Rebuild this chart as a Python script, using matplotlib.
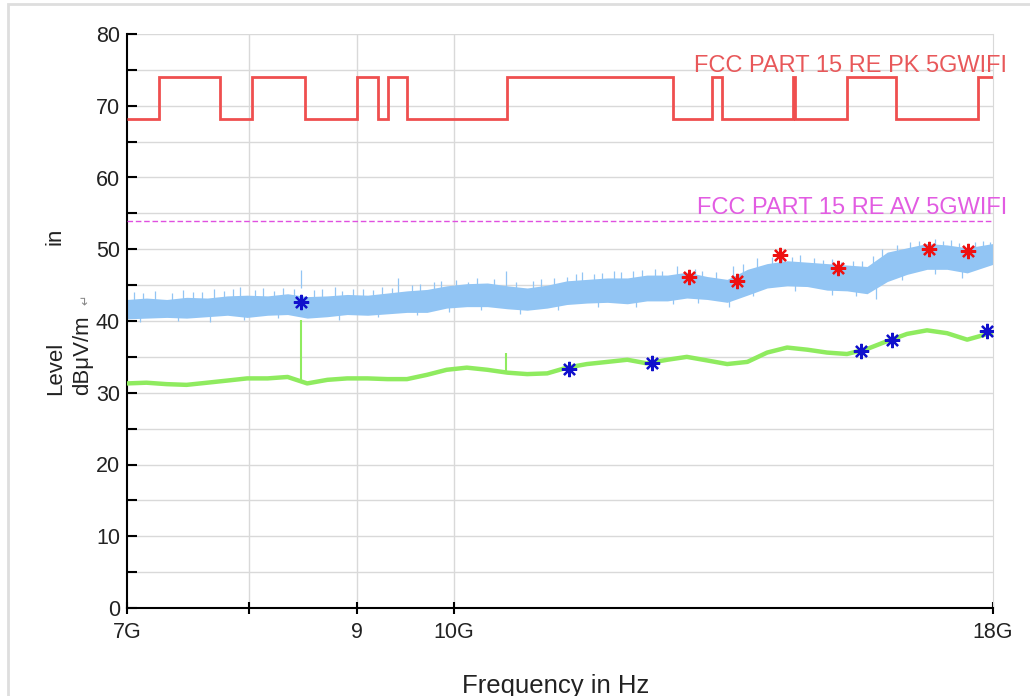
import numpy as np
import matplotlib
matplotlib.use("Agg")
import matplotlib.pyplot as plt
from matplotlib.ticker import FixedLocator, NullLocator, MultipleLocator
from matplotlib.patches import Rectangle
from matplotlib.transforms import blended_transform_factory

plt.rcParams['font.family'] = ['Liberation Sans', 'DejaVu Sans']

# frequency grid of the scan (GHz)
freq = [7.0, 7.15, 7.31, 7.47, 7.64, 7.81, 7.98, 8.16, 8.34, 8.52, 8.71, 8.9,
        9.1, 9.3, 9.5, 9.71, 9.92, 10.14, 10.37, 10.6, 10.83, 11.07, 11.31, 11.56,
        11.82, 12.08, 12.34, 12.62, 12.89, 13.18, 13.47, 13.77, 14.07, 14.38, 14.7,
        15.02, 15.35, 15.69, 16.04, 16.39, 16.75, 17.12, 17.5, 18.0]

# peak detector trace, upper / lower envelope (dBuV/m)
pk_upper = [43.0, 43.2, 43.0, 43.3, 43.2, 43.5, 43.6, 43.5, 43.8, 43.4, 43.5, 43.7,
            43.6, 43.9, 44.2, 44.4, 44.9, 45.2, 45.3, 44.9, 44.6, 45.0, 45.6, 45.8,
            46.0, 46.0, 46.4, 46.4, 46.8, 46.2, 45.8, 47.2, 48.0, 48.4, 48.2, 48.0,
            47.8, 47.6, 49.6, 50.2, 50.8, 50.6, 50.2, 50.8]
pk_lower = [40.3, 40.4, 40.5, 40.4, 40.6, 40.8, 40.5, 40.8, 40.9, 40.4, 40.6, 40.9,
            40.8, 41.0, 41.2, 41.2, 41.8, 42.0, 42.0, 41.7, 41.5, 41.8, 42.3, 42.5,
            42.6, 42.4, 42.8, 42.8, 43.2, 43.0, 42.6, 43.6, 44.6, 44.9, 44.8, 44.3,
            44.2, 43.8, 45.5, 46.5, 47.2, 47.2, 46.7, 47.9]

# narrow spurs sticking out of the peak trace (upwards)
spur_f = [7.05, 7.12, 7.22, 7.35, 7.44, 7.52, 7.6, 7.7, 7.78, 7.86, 7.92, 8.05,
          8.12, 8.22, 8.3, 8.4, 8.46, 8.58, 8.66, 8.78, 8.85, 8.96, 9.05, 9.15,
          9.24, 9.35, 9.41, 9.55, 9.64, 9.78, 9.86, 10.02, 10.15, 10.25, 10.45,
          10.58, 10.7, 10.9, 11.0, 11.15, 11.31, 11.42, 11.5, 11.65, 11.75, 11.9,
          12.0, 12.15, 12.28, 12.45, 12.55, 12.75, 13.0, 13.1, 13.3, 13.55, 13.7,
          13.92, 14.15, 14.3, 14.45, 14.58, 14.8, 14.95, 15.1, 15.25, 15.45, 15.6,
          15.8, 15.95, 16.21, 16.45, 16.6, 16.9, 17.05, 17.19, 17.35, 17.65, 17.8,
          17.95]
spur_top = [44.0, 43.9, 44.2, 43.9, 44.3, 44.0, 44.1, 44.5, 44.2, 44.4, 44.7, 44.3,
            44.6, 44.2, 44.6, 44.5, 47.1, 44.3, 44.5, 44.7, 44.2, 44.4, 44.5, 44.3,
            44.7, 44.6, 46.0, 45.0, 45.2, 45.4, 45.6, 45.7, 45.4, 46.0, 45.8,
            47.0, 45.5, 45.6, 45.8, 46.0, 46.1, 46.5, 46.8, 46.6, 46.7, 46.9,
            46.8, 47.0, 47.1, 47.2, 47.0, 47.6, 47.3, 46.9, 46.8, 47.6, 48.0,
            48.8, 48.9, 49.0, 48.9, 49.2, 48.8, 48.5, 48.6, 48.2, 48.4, 48.3,
            49.0, 50.0, 50.6, 51.0, 51.2, 51.4, 51.2, 51.3, 50.9, 51.0, 51.2,
            51.0]

# narrow dips below the peak trace
dip_f = [7.1, 7.4, 7.66, 7.95, 8.25, 8.6, 8.82, 9.2, 9.6, 9.95, 10.3, 10.75,
         11.2, 11.7, 12.2, 12.7, 13.05, 13.5, 13.85, 14.5, 15.1, 15.5, 15.85,
         16.3, 16.9, 17.4]
dip_bottom = [39.9, 40.0, 39.9, 40.1, 40.4, 40.5, 40.2, 40.5, 40.8, 41.3, 41.6,
              41.0, 41.5, 42.0, 41.9, 42.3, 42.5, 42.0, 43.5, 44.2, 43.6, 43.5,
              43.0, 45.7, 46.5, 46.0]

# average detector trace (dBuV/m)
av_level = [31.3, 31.4, 31.2, 31.1, 31.4, 31.7, 32.0, 32.0, 32.2, 31.3, 31.8, 32.0,
            32.0, 31.9, 31.9, 32.5, 33.2, 33.5, 33.2, 32.8, 32.6, 32.7, 33.5, 34.0,
            34.3, 34.6, 34.1, 34.6, 35.0, 34.5, 34.0, 34.3, 35.6, 36.3, 36.0, 35.6,
            35.4, 36.1, 37.2, 38.2, 38.7, 38.3, 37.4, 38.4]
av_spur_f = [8.46, 10.58]
av_spur_top = [40.2, 35.5]
av_spur_base = [31.3, 32.8]

# final measurement points
pk_blue_f, pk_blue_v = [8.463], [42.6]
pk_red_f = [12.92, 13.62, 14.27, 15.20, 16.79, 17.52]
pk_red_v = [46.1, 45.6, 49.2, 47.4, 50.0, 49.8]
av_mark_f = [11.34, 12.41, 15.59, 16.12, 17.88]
av_mark_v = [33.3, 34.1, 35.8, 37.4, 38.6]

# FCC 15.209/15.407 limit lines
pk_edges = [7.0, 7.25, 7.75, 8.025, 8.5, 9.0, 9.2, 9.3, 9.5, 10.6, 12.7, 13.25,
            13.4, 14.47, 14.5, 15.35, 16.2, 17.7, 18.0]
pk_limit = [68.2, 74, 68.2, 74, 68.2, 74, 68.2, 74, 68.2, 74, 68.2, 74, 68.2,
            74, 68.2, 74, 68.2, 74]
av_limit = 54.0

W, H = 1030, 696
fig = plt.figure(figsize=(W / 100, H / 100), dpi=100)
fig.patches.append(Rectangle((8 / W, -0.1), 1.2, 1.1 - 4 / H, transform=fig.transFigure,
                             fill=False, ec='#dedede', lw=2))
ax = fig.add_axes([127 / W, 1 - 608 / H, 866 / W, 574 / H])
ax.set_xscale('log')
ax.set_xlim(7.0, 18.0)
ax.set_ylim(0, 80)

ax.yaxis.set_major_locator(MultipleLocator(10))
ax.yaxis.set_minor_locator(MultipleLocator(5))
ax.grid(True, which='both', axis='y', color='#d9d9d9', lw=1)
for g in [8, 9, 10]:
    ax.axvline(g, color='#d9d9d9', lw=1, zorder=0)

ax.xaxis.set_major_locator(FixedLocator([7, 8, 9, 10, 18]))
ax.xaxis.set_minor_locator(NullLocator())
ax.set_xticklabels(['7G', '', '9', '10G', '18G'])

ax.spines['top'].set_visible(False)
ax.spines['right'].set_color('#d9d9d9')
ax.spines['left'].set_linewidth(1.5)
ax.spines['bottom'].set_linewidth(1.5)
ax.tick_params(axis='y', which='both', direction='in', length=7, width=1.5,
               labelsize=15.5, pad=5, labelcolor='#222222')
ax.tick_params(axis='x', which='major', direction='inout', length=8, width=1.5,
               labelsize=15.5, pad=6, labelcolor='#222222')
ax.set_axisbelow(True)

# measured traces
blue = '#92c5f4'
ax.fill_between(freq, pk_lower, pk_upper, color=blue, lw=0, zorder=2)
ax.vlines(spur_f, np.array(spur_top) - 2.5, spur_top, color=blue, lw=0.9, zorder=2)
ax.vlines(dip_f, dip_bottom, np.array(dip_bottom) + 2.0, color=blue, lw=0.9, zorder=2)
green = '#8feb5f'
ax.plot(freq, av_level, color=green, lw=3.2, zorder=3)
ax.vlines(av_spur_f, av_spur_base, av_spur_top, color=green, lw=1.5, zorder=3)

# limits
ax.stairs(pk_limit, pk_edges, baseline=None, color='#ef4f4f', lw=2, zorder=4)
ax.axhline(av_limit, color='#e050e0', lw=1, ls=(0, (4, 2)), zorder=4)

mk = (8, 2, 0)
ax.plot(pk_blue_f, pk_blue_v, ls='none', marker=mk, ms=11, mew=1.6, color='#1111cc', zorder=5)
ax.plot(pk_red_f, pk_red_v, ls='none', marker=mk, ms=11, mew=1.6, color='#ee1111', zorder=5)
ax.plot(av_mark_f, av_mark_v, ls='none', marker=mk, ms=11, mew=1.6, color='#1111cc', zorder=5)

tr = blended_transform_factory(ax.transAxes, ax.transData)
ax.text(1.0162, 74.7, 'FCC PART 15 RE PK 5GWIFI', transform=tr, ha='right',
        va='baseline', fontsize=17, color='#e8585a', clip_on=False)
ax.text(1.0162, 54.9, 'FCC PART 15 RE AV 5GWIFI', transform=tr, ha='right',
        va='baseline', fontsize=17, color='#e25ce2', clip_on=False)

# axis titles
fig.text(556 / W, 1 - 693 / H, 'Frequency in Hz', ha='center', va='baseline',
         fontsize=18.5, color='#222222')
fig.text(56 / W, 1 - 395 / H, 'Level', rotation=90, ha='center', va='bottom',
         fontsize=16, color='#222222')
fig.text(83 / W, 1 - 395 / H, 'dBμV/m', rotation=90, ha='center', va='bottom',
         fontsize=16, color='#222222')
fig.text(86 / W, 1 - 300 / H, '↵', rotation=90, ha='center', va='center',
         fontsize=9, color='#888888')
fig.text(55 / W, 1 - 236 / H, 'in', rotation=90, ha='center', va='center',
         fontsize=16, color='#222222')

fig.savefig('out.png', dpi=100)
